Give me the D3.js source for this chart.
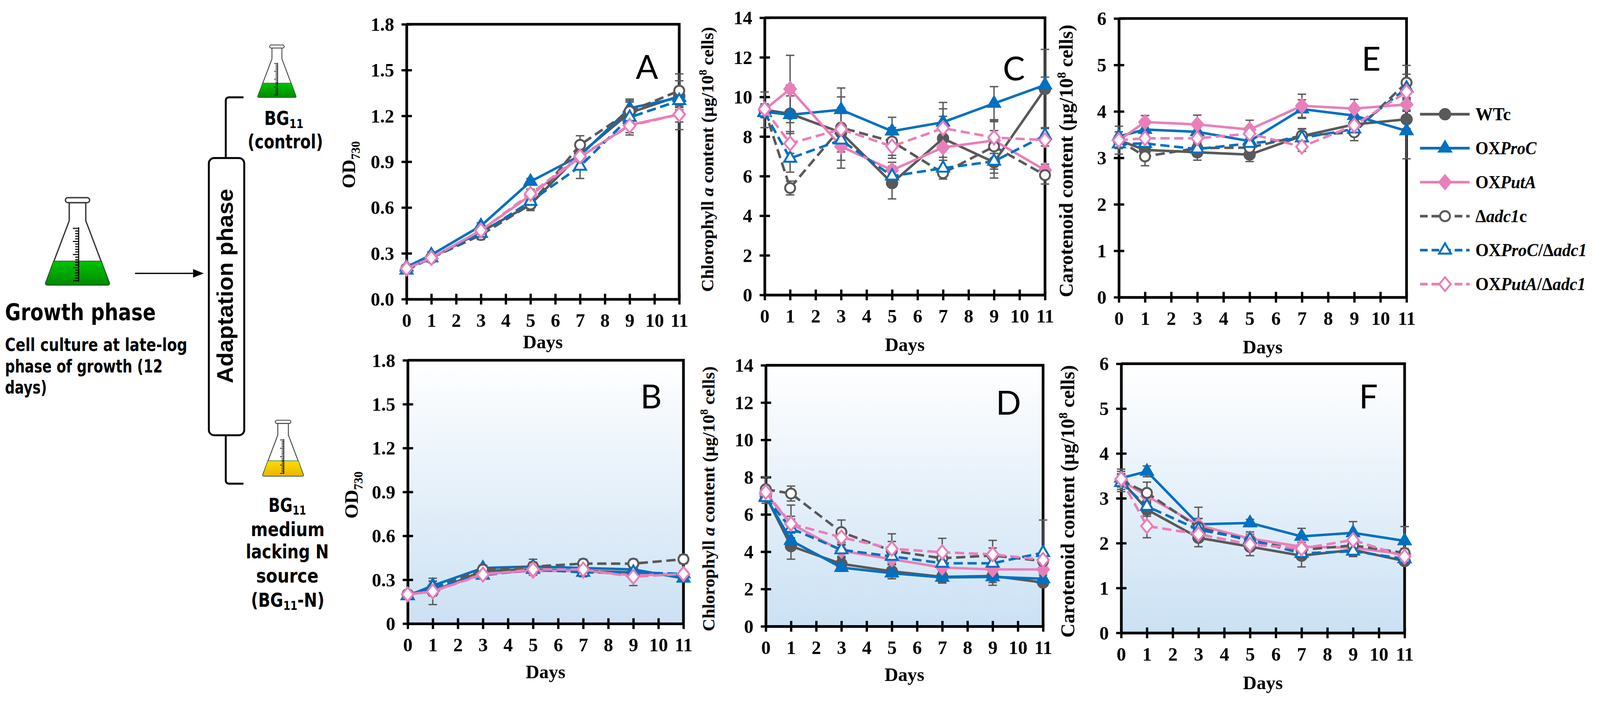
<!DOCTYPE html>
<html>
<head>
<meta charset="utf-8">
<script src="https://cdn.jsdelivr.net/npm/d3@7"></script>
<style>
html, body { margin: 0; padding: 0; overflow: hidden; background: #fff; }
svg { display: block; width: 100vw; height: 100vh; }
</style>
</head>
<body>
<svg id="fig" viewBox="0 0 4160 1803" preserveAspectRatio="xMidYMid meet"></svg>
<script>
// ---- data ----
var days = [0, 1, 3, 5, 7, 9, 11];
var dayTicks = d3.range(0, 12);
var seriesNames = ["WTc", "OXProC", "OXPutA", "Δadc1c", "OXProC/Δadc1", "OXPutA/Δadc1"];

// OD730, BG11 (control); rows follow seriesNames
var odControl = [
	[0.20, 0.27, 0.44, 0.62, 0.95, 1.22, 1.33],
	[0.21, 0.29, 0.48, 0.77, 0.94, 1.25, 1.32],
	[0.20, 0.27, 0.45, 0.68, 0.93, 1.14, 1.21],
	[0.20, 0.27, 0.42, 0.62, 1.01, 1.23, 1.365],
	[0.19, 0.27, 0.43, 0.64, 0.87, 1.19, 1.30],
	[0.20, 0.27, 0.45, 0.69, 0.935, 1.135, 1.21]
];
var odControlSd = [
	[0.01, 0.02, 0.02, 0.03, 0.03, 0.08, 0.10],
	[0.01, 0.02, 0.02, 0.02, 0.03, 0.04, 0.05],
	[0.01, 0.02, 0.02, 0.03, 0.03, 0.05, 0.05],
	[0.01, 0.02, 0.03, 0.04, 0.06, 0.08, 0.11],
	[0.01, 0.02, 0.03, 0.03, 0.08, 0.06, 0.06],
	[0.01, 0.02, 0.02, 0.03, 0.03, 0.06, 0.10]
];

// OD730, BG11-N
var odNitrogen = [
	[0.20, 0.22, 0.36, 0.37, 0.36, 0.35, 0.33],
	[0.19, 0.26, 0.38, 0.39, 0.38, 0.37, 0.31],
	[0.20, 0.22, 0.34, 0.36, 0.36, 0.33, 0.34],
	[0.20, 0.24, 0.37, 0.39, 0.41, 0.41, 0.44],
	[0.19, 0.25, 0.33, 0.37, 0.35, 0.35, 0.34],
	[0.20, 0.22, 0.335, 0.37, 0.37, 0.32, 0.34]
];
var odNitrogenSd = [
	[0.01, 0.03, 0.02, 0.03, 0.03, 0.03, 0.03],
	[0.01, 0.03, 0.02, 0.03, 0.02, 0.02, 0.02],
	[0.01, 0.03, 0.02, 0.02, 0.02, 0.03, 0.02],
	[0.01, 0.05, 0.02, 0.05, 0.03, 0.03, 0.03],
	[0.01, 0.04, 0.02, 0.03, 0.03, 0.03, 0.02],
	[0.01, 0.09, 0.02, 0.04, 0.03, 0.06, 0.02]
];

// Chlorophyll a (µg/10^8 cells), BG11
var chlControl = [
	[9.35, 9.15, 8.20, 5.65, 7.90, 6.70, 10.40],
	[9.25, 9.10, 9.35, 8.27, 8.72, 9.67, 10.60],
	[9.35, 10.40, 7.50, 6.30, 7.45, 7.80, 6.30],
	[9.35, 5.40, 8.45, 7.75, 6.15, 7.50, 6.05],
	[9.20, 6.90, 7.82, 6.00, 6.40, 6.75, 8.05],
	[9.38, 7.65, 8.37, 7.50, 8.42, 7.95, 7.82]
];
var chlControlSd = [
	[0.30, 0.90, 1.80, 0.80, 1.50, 0.80, 2.00],
	[0.30, 1.50, 1.10, 0.70, 1.00, 0.85, 0.40],
	[0.20, 1.70, 0.70, 0.40, 0.50, 0.50, 0.30],
	[0.90, 0.35, 1.00, 0.70, 0.30, 1.35, 0.45],
	[0.20, 0.70, 0.60, 0.50, 0.40, 0.40, 0.40],
	[0.20, 0.50, 0.80, 0.60, 0.60, 0.80, 0.30]
];

// Chlorophyll a, BG11-N
var chlNitrogen = [
	[7.00, 4.30, 3.35, 2.95, 2.65, 2.70, 2.35],
	[6.95, 4.60, 3.15, 2.85, 2.62, 2.65, 2.55],
	[7.10, 5.50, 4.05, 3.60, 3.15, 3.05, 3.05],
	[7.35, 7.12, 5.05, 4.05, 3.65, 3.80, 3.50],
	[6.90, 5.25, 4.10, 3.75, 3.38, 3.38, 3.95],
	[7.20, 5.50, 4.77, 4.16, 3.97, 3.86, 3.56]
];
var chlNitrogenSd = [
	[0.40, 0.70, 0.30, 0.40, 0.30, 0.50, 0.20],
	[0.20, 0.50, 0.20, 0.30, 0.30, 0.30, 0.20],
	[0.30, 1.00, 0.30, 0.30, 0.30, 0.30, 0.20],
	[0.65, 0.40, 0.65, 0.50, 0.40, 0.40, 0.30],
	[0.30, 0.50, 0.40, 0.40, 0.40, 0.40, 1.75],
	[0.30, 0.40, 0.40, 0.80, 0.75, 0.75, 0.30]
];

// Carotenoid (µg/10^8 cells), BG11
var carControl = [
	[3.38, 3.17, 3.12, 3.07, 3.47, 3.72, 3.83],
	[3.46, 3.61, 3.56, 3.36, 4.05, 3.91, 3.58],
	[3.38, 3.77, 3.72, 3.61, 4.12, 4.06, 4.15],
	[3.38, 3.03, 3.21, 3.22, 3.48, 3.55, 4.62],
	[3.30, 3.31, 3.19, 3.31, 3.43, 3.62, 4.50],
	[3.38, 3.42, 3.42, 3.52, 3.24, 3.70, 4.42]
];
var carControlSd = [
	[0.10, 0.10, 0.17, 0.15, 0.15, 0.15, 0.20],
	[0.10, 0.12, 0.12, 0.12, 0.20, 0.15, 0.60],
	[0.10, 0.14, 0.20, 0.20, 0.25, 0.20, 0.15],
	[0.30, 0.20, 0.12, 0.15, 0.15, 0.18, 0.37],
	[0.10, 0.10, 0.10, 0.10, 0.10, 0.10, 0.30],
	[0.10, 0.10, 0.10, 0.10, 0.10, 0.10, 0.15]
];

// Carotenoid, BG11-N
var carNitrogen = [
	[3.40, 2.75, 2.12, 1.92, 1.72, 1.85, 1.60],
	[3.45, 3.60, 2.42, 2.45, 2.15, 2.23, 2.05],
	[3.40, 3.05, 2.40, 2.10, 1.92, 1.90, 1.75],
	[3.40, 3.12, 2.35, 2.05, 1.85, 1.95, 1.78],
	[3.35, 2.82, 2.30, 2.08, 1.77, 1.82, 1.65],
	[3.43, 2.38, 2.20, 1.97, 1.88, 2.07, 1.70]
];
var carNitrogenSd = [
	[0.20, 0.15, 0.20, 0.20, 0.25, 0.15, 0.08],
	[0.10, 0.12, 0.38, 0.08, 0.18, 0.25, 0.32],
	[0.10, 0.10, 0.15, 0.15, 0.10, 0.10, 0.10],
	[0.25, 0.24, 0.20, 0.15, 0.12, 0.10, 0.10],
	[0.10, 0.10, 0.10, 0.10, 0.10, 0.10, 0.10],
	[0.10, 0.26, 0.10, 0.10, 0.10, 0.10, 0.10]
];

// ---- styles ----
var GRAY = "#595959", BLUE = "#0070c0", PINK = "#e97fba";
var SERIF = "'Liberation Serif', 'Times New Roman', serif";
var seriesStyle = [
	{ color: GRAY, dash: null, marker: "circle", open: false },
	{ color: BLUE, dash: null, marker: "triangle", open: false },
	{ color: PINK, dash: null, marker: "diamond", open: false },
	{ color: GRAY, dash: "24,12", marker: "circle", open: true },
	{ color: BLUE, dash: "24,12", marker: "triangle", open: true },
	{ color: PINK, dash: "24,12", marker: "diamond", open: true }
];
var legendParts = [
	[["WTc", 0]],
	[["OX", 0], ["ProC", 1]],
	[["OX", 0], ["PutA", 1]],
	[["Δ", 0], ["adc1", 1], ["c", 0]],
	[["OX", 0], ["ProC", 1], ["/Δ", 0], ["adc1", 1]],
	[["OX", 0], ["PutA", 1], ["/Δ", 0], ["adc1", 1]]
];
var legendWidths = [92, 160, 158, 134, 290, 287];

var svg = d3.select("#fig");
var defs = svg.append("defs");

var grad = defs.append("linearGradient").attr("id", "nbg")
	.attr("x1", 0).attr("y1", 0).attr("x2", 0).attr("y2", 1);
grad.append("stop").attr("offset", "0%").attr("stop-color", "#ffffff");
grad.append("stop").attr("offset", "100%").attr("stop-color", "#cbe1f4");

// squeeze a (multi-tspan) text horizontally so its box spans `width`
// starting at x (anchor "start") or centred on x (anchor "middle")
function fitText(t, x, y, width, anchor) {
	t.attr("x", 0).attr("y", 0).attr("text-anchor", "start");
	var b = t.node().getBBox();
	var k = b.width > 0 ? width / b.width : 1;
	var left = anchor === "middle" ? x - width / 2 : x;
	t.attr("transform", "translate(" + (left - b.x * k) + "," + y + ") scale(" + k + ",1)");
}

function markerPath(type, open) {
	var w, h;
	if (type === "triangle") {
		w = open ? 15.5 : 18; h = open ? 27 : 31;
		return "M0," + (-h * 2 / 3) + "L" + w + "," + (h / 3) + "L" + (-w) + "," + (h / 3) + "Z";
	}
	if (type === "diamond") {
		w = open ? 15 : 17; h = open ? 18 : 20;
		return "M0," + (-h) + "L" + w + ",0L0," + h + "L" + (-w) + ",0Z";
	}
	var r = open ? 13 : 15;
	return "M" + r + ",0A" + r + "," + r + " 0 1,1 " + (-r) + ",0A" + r + "," + r + " 0 1,1 " + r + ",0Z";
}

function drawMarker(g, st, cx, cy) {
	g.append("path")
		.attr("d", markerPath(st.marker, st.open))
		.attr("transform", "translate(" + cx + "," + cy + ")")
		.attr("fill", st.open ? "#fff" : st.color)
		.attr("stroke", st.color)
		.attr("stroke-width", st.open ? 5 : 2)
		.attr("stroke-linejoin", "miter");
}

function yTitle(g, p) {
	var t = g.append("text")
		.attr("transform", "translate(" + p.titleX + "," + ((p.yTop + p.yBot) / 2 + 8) + ") rotate(-90)")
		.attr("text-anchor", "middle")
		.attr("font-family", SERIF).attr("font-weight", "bold")
		.attr("font-size", p.titleSize);
	if (p.kind === "od") {
		t.append("tspan").text("OD");
		t.append("tspan").attr("font-size", p.titleSize * 0.64).attr("dy", 12).text("730");
		return;
	}
	t.append("tspan").text(p.kind === "chl" ? "Chlorophyll " : "Carotenoid ");
	if (p.kind === "chl") {
		t.append("tspan").attr("font-style", "italic").text("a");
		t.append("tspan").text(" content (µg/10");
	} else {
		t.append("tspan").text("content (µg/10");
	}
	t.append("tspan").attr("font-size", p.titleSize * 0.64).attr("dy", -18).text("8");
	t.append("tspan").attr("dy", 18).text(" cells)");
}

function drawPanel(p) {
	var x = d3.scaleLinear().domain([0, 11]).range([p.x0, p.x1]);
	var y = d3.scaleLinear().domain([0, p.yMax]).range([p.yBot, p.yTop]);
	var g = svg.append("g");

	if (p.shaded) {
		g.append("rect")
			.attr("x", p.x0).attr("y", p.yTop)
			.attr("width", p.x1 - p.x0).attr("height", p.yBot - p.yTop)
			.attr("fill", "url(#nbg)");
	}

	// frame (top + right)
	g.append("path")
		.attr("d", "M" + p.x0 + "," + p.yTop + "H" + p.x1 + "V" + p.yBot)
		.attr("fill", "none").attr("stroke", "#000").attr("stroke-width", 7);

	var yAxis = d3.axisLeft(y)
		.tickValues(d3.range(0, p.yMax + 1e-9, p.yStep))
		.tickFormat(p.fmt)
		.tickSizeOuter(0).tickSizeInner(13);
	var ya = g.append("g").attr("transform", "translate(" + p.x0 + ",0)").call(yAxis);
	ya.select(".domain").attr("stroke", "#000").attr("stroke-width", 7);
	ya.selectAll(".tick line").attr("x1", 14).attr("x2", -13).attr("stroke", "#000").attr("stroke-width", 6);
	ya.selectAll(".tick text")
		.attr("x", -32).attr("dy", "0.34em")
		.attr("font-family", SERIF).attr("font-weight", "bold").attr("font-size", 49).attr("fill", "#000");

	var xAxis = d3.axisBottom(x).tickValues(dayTicks).tickSizeOuter(0).tickSizeInner(13);
	var xa = g.append("g").attr("transform", "translate(0," + p.yBot + ")").call(xAxis);
	xa.select(".domain").attr("stroke", "#000").attr("stroke-width", 7);
	xa.selectAll(".tick line").attr("y1", -14).attr("y2", 14).attr("stroke", "#000").attr("stroke-width", 6);
	xa.selectAll(".tick text")
		.attr("y", 72).attr("dy", 0)
		.attr("font-family", SERIF).attr("font-weight", "bold").attr("font-size", 49).attr("fill", "#000");

	g.append("text")
		.attr("x", (p.x0 + p.x1) / 2).attr("y", p.daysY)
		.attr("text-anchor", "middle")
		.attr("font-family", SERIF).attr("font-weight", "bold").attr("font-size", 49)
		.text("Days");

	yTitle(g, p);

	// error bars
	p.mean.forEach(function (row, s) {
		row.forEach(function (v, i) {
			var e = p.sd[s][i];
			var cx = x(days[i]), y1 = y(v - e), y2 = y(v + e);
			var eg = g.append("g").attr("stroke", GRAY).attr("stroke-width", 3.5);
			eg.append("line").attr("x1", cx).attr("x2", cx).attr("y1", y1).attr("y2", y2);
			eg.append("line").attr("x1", cx - 11).attr("x2", cx + 11).attr("y1", y1).attr("y2", y1);
			eg.append("line").attr("x1", cx - 11).attr("x2", cx + 11).attr("y1", y2).attr("y2", y2);
		});
	});

	var line = d3.line().x(function (d) { return x(d[0]); }).y(function (d) { return y(d[1]); });
	p.mean.forEach(function (row, s) {
		var st = seriesStyle[s];
		var pts = row.map(function (v, i) { return [days[i], v]; });
		g.append("path")
			.attr("d", line(pts))
			.attr("fill", "none").attr("stroke", st.color).attr("stroke-width", 6.5)
			.attr("stroke-dasharray", st.dash)
			.attr("stroke-linejoin", "round");
		pts.forEach(function (d) { drawMarker(g, st, x(d[0]), y(d[1])); });
	});

	g.append("text")
		.attr("x", p.letter[1]).attr("y", p.letter[2])
		.attr("text-anchor", "middle")
		.attr("font-family", "Lato, 'Open Sans', sans-serif").attr("font-size", 86)
		.text(p.letter[0]);
}

var fmt1 = d3.format(".1f");
var fmtZero = function (d) { return d < 1e-9 ? "0" : fmt1(d); };
var fmtInt = d3.format("d");

var panels = [
	{ mean: odControl, sd: odControlSd, kind: "od", x0: 1057, x1: 1766, yTop: 49, yBot: 764, yMax: 1.8, yStep: 0.3,
		fmt: fmt1, titleX: 923, titleSize: 50, daysY: 892, letter: ["A", 1682, 191], shaded: false },
	{ mean: odNitrogen, sd: odNitrogenSd, kind: "od", x0: 1060, x1: 1777, yTop: 923, yBot: 1608, yMax: 1.8, yStep: 0.3,
		fmt: fmtZero, titleX: 930, titleSize: 50, daysY: 1750, letter: ["B", 1693, 1048], shaded: true },
	{ mean: chlControl, sd: chlControlSd, kind: "chl", x0: 1988, x1: 2717, yTop: 32, yBot: 753, yMax: 14, yStep: 2,
		fmt: fmtInt, titleX: 1855, titleSize: 46, daysY: 899, letter: ["C", 2636, 195], shaded: false },
	{ mean: chlNitrogen, sd: chlNitrogenSd, kind: "chl", x0: 1991, x1: 2712, yTop: 936, yBot: 1615, yMax: 14, yStep: 2,
		fmt: fmtInt, titleX: 1858, titleSize: 46, daysY: 1757, letter: ["D", 2622, 1065], shaded: true },
	{ mean: carControl, sd: carControlSd, kind: "car", x0: 2909, x1: 3657, yTop: 34, yBot: 759, yMax: 6, yStep: 1,
		fmt: fmtInt, titleX: 2789, titleSize: 51, daysY: 905, letter: ["E", 3565, 170], shaded: false },
	{ mean: carNitrogen, sd: carNitrogenSd, kind: "car", x0: 2915, x1: 3652, yTop: 932, yBot: 1632, yMax: 6, yStep: 1,
		fmt: fmtInt, titleX: 2793, titleSize: 51, daysY: 1778, letter: ["F", 3558, 1048], shaded: true }
];
panels.forEach(drawPanel);

// ---- legend ----
var lg = svg.append("g");
seriesNames.forEach(function (name, s) {
	var st = seriesStyle[s];
	var ly = 283 + s * 88.4;
	lg.append("line")
		.attr("x1", 3692).attr("x2", 3821).attr("y1", ly).attr("y2", ly)
		.attr("stroke", st.color).attr("stroke-width", 7)
		.attr("stroke-dasharray", st.dash ? "20,10" : null);
	drawMarker(lg, st, 3757, ly);
	var t = lg.append("text")
		.attr("font-family", SERIF).attr("font-weight", "bold").attr("font-size", 47);
	legendParts[s].forEach(function (part) {
		t.append("tspan").attr("font-style", part[1] ? "italic" : "normal").text(part[0]);
	});
	fitText(t, 3836, ly + 16, legendWidths[s], "start");
});

// ---- left schematic ----
var sg = svg.append("g");
var SANS = "'DejaVu Sans', sans-serif";

function drawFlask(cx, top, s, c1, c2, id) {
	var lgd = defs.append("linearGradient").attr("id", id)
		.attr("x1", 0).attr("y1", 0).attr("x2", 0).attr("y2", 1);
	lgd.append("stop").attr("offset", "0%").attr("stop-color", c1);
	lgd.append("stop").attr("offset", "100%").attr("stop-color", c2);
	var f = sg.append("g").attr("transform", "translate(" + cx + "," + top + ") scale(" + s + ")");
	f.append("path")
		.attr("d", "M-21.5,13V60L-82,220Q-85,227-77,227H77Q85,227 82,220L21.5,60V13Z")
		.attr("fill", "#fff").attr("stroke", "#3a3a3a").attr("stroke-width", 3.5);
	f.append("path")
		.attr("d", "M-62.3,165H62.3L82,220Q85,227 77,227H-77Q-85,227-82,220Z")
		.attr("fill", "url(#" + id + ")").attr("stroke", "#1e5b1e").attr("stroke-width", 2);
	f.append("rect")
		.attr("x", -31.5).attr("y", 0).attr("width", 63).attr("height", 13).attr("rx", 6.5)
		.attr("fill", "#fff").attr("stroke", "#3a3a3a").attr("stroke-width", 3.5);
	var ruler = f.append("g").attr("stroke", "#111");
	ruler.append("line").attr("x1", 3).attr("x2", 3).attr("y1", 77).attr("y2", 218).attr("stroke-width", 3);
	d3.range(0, 21).forEach(function (k) {
		var ty = 80 + k * 6.8;
		ruler.append("line").attr("x1", 3).attr("x2", k % 5 === 0 ? -12 : -6)
			.attr("y1", ty).attr("y2", ty).attr("stroke-width", 3);
	});
}

drawFlask(201.5, 500, 1, "#00c400", "#008a00", "liqBig");
drawFlask(720, 103, 0.6, "#00c400", "#008a00", "liqTop");
drawFlask(736, 1079, 0.64, "#ffdc00", "#e8b400", "liqBottom");

function sText(x, y, str, len, size, anchor) {
	var t = sg.append("text")
		.attr("font-family", SANS).attr("font-weight", "bold").attr("font-size", size)
		.text(str);
	fitText(t, x, y, len, anchor || "start");
	return t;
}
sText(13, 819, "Growth phase", 392, 60);
sText(13, 899, "Cell culture at late-log", 474, 47);
sText(13, 955, "phase of growth (12", 410, 47);
sText(13, 1010, "days)", 109, 47);

function bgText(cx, y, width, pre, post) {
	var t = sg.append("text")
		.attr("font-family", SANS).attr("font-weight", "bold").attr("font-size", 50);
	t.append("tspan").text(pre + "BG");
	t.append("tspan").attr("font-size", 32).attr("dy", 8).text("11");
	if (post) t.append("tspan").attr("dy", -8).text(post);
	fitText(t, cx, y, width, "middle");
	return t;
}
bgText(738, 311, 102, "", "");
sText(742, 372, "(control)", 196, 50, "middle");
bgText(747, 1317, 98, "", "");
sText(748, 1380, "medium", 192, 50, "middle");
sText(747, 1438, "lacking N", 216, 50, "middle");
sText(747, 1501, "source", 162, 50, "middle");
bgText(748, 1564, 191, "(", "-N)");

// arrow
sg.append("line").attr("x1", 351).attr("x2", 506).attr("y1", 697).attr("y2", 697)
	.attr("stroke", "#000").attr("stroke-width", 3.5);
sg.append("path").attr("d", "M530,697L502,686L502,708Z").attr("fill", "#000");

// adaptation bracket and box
sg.append("path")
	.attr("d", "M633,239H596Q587,239 587,248V397M587,1118V1235Q587,1244 596,1244H633")
	.attr("fill", "none").attr("stroke", "#000").attr("stroke-width", 5);
sg.append("rect")
	.attr("x", 543).attr("y", 397).attr("width", 92).attr("height", 721).attr("rx", 14)
	.attr("fill", "#fff").attr("stroke", "#000").attr("stroke-width", 5);
sg.append("text")
	.attr("transform", "translate(605,730) rotate(-90)")
	.attr("text-anchor", "middle")
	.attr("font-family", "'Liberation Sans Narrow', 'Liberation Sans', Arial, sans-serif")
	.attr("font-weight", "bold").attr("font-size", 58)
	.attr("textLength", 506).attr("lengthAdjust", "spacingAndGlyphs")
	.text("Adaptation phase");
</script>
</body>
</html>
